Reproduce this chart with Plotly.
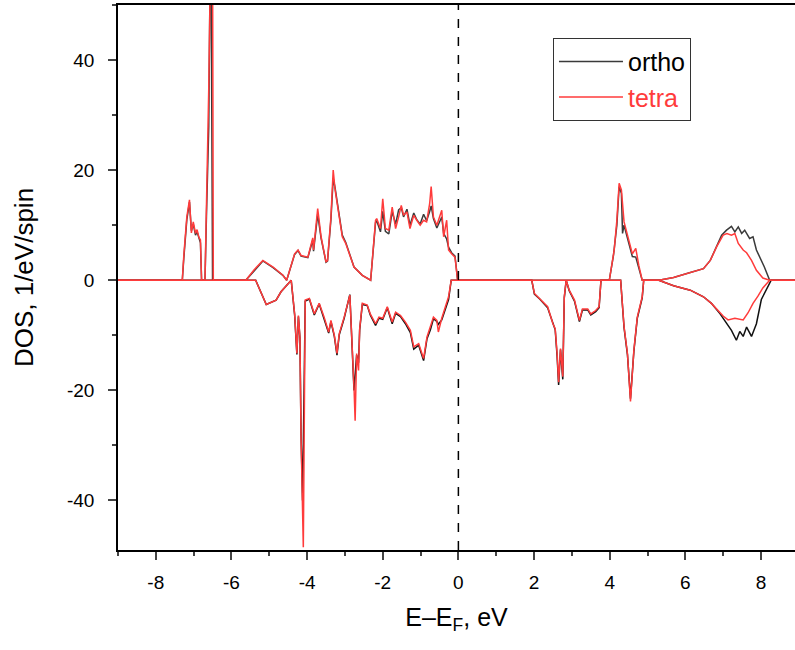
import plotly.graph_objects as go

# energy (eV, relative to E_F) and DOS (1/eV/spin)
ortho_up_e = [-9.0, -7.30, -7.26, -7.18, -7.11, -7.06, -7.01, -6.95, -6.91, -6.86, -6.82, -6.79, -6.70,
              -6.66, -6.60, -6.56, -6.54, -6.52, -6.50, -5.62, -5.40, -5.17, -4.90, -4.64, -4.54, -4.33,
              -4.24, -4.16, -3.98, -3.90, -3.85, -3.83, -3.72, -3.63, -3.50, -3.46, -3.37, -3.31, -3.26,
              -3.15, -3.07, -2.98, -2.89, -2.76, -2.54, -2.32, -2.19, -2.16, -2.06, -2.00, -1.93, -1.84,
              -1.75, -1.66, -1.58, -1.51, -1.45, -1.36, -1.28, -1.18, -1.10, -1.01, -0.92, -0.84, -0.76,
              -0.72, -0.66, -0.57, -0.44, -0.39, -0.31, -0.26, -0.18, -0.09, -0.02, 3.99, 4.10, 4.19,
              4.25, 4.31, 4.34, 4.38, 4.51, 4.60, 4.69, 4.77, 4.86, 5.30, 5.69, 6.13, 6.48, 6.66, 6.83,
              6.96, 7.09, 7.22, 7.31, 7.40, 7.49, 7.57, 7.70, 7.79, 7.88, 8.01, 8.09, 8.23, 8.9]
ortho_up = [0, 0, 4, 11, 14.2, 9, 10.2, 8.2, 8.8, 7.5, 6.8, 0, 0,
            12, 28, 60, 60, 30, 0, 0, 1.8, 3.5, 2.3, 0.9, 0, 4.7,
            5.4, 4.4, 4.1, 6.0, 7.3, 5.3, 12.0, 7.6, 3.3, 3.5, 11.0, 18.5, 16.8,
            11.8, 8.2, 6.9, 4.9, 2.4, 0.9, 0, 10.5, 10.8, 8.8, 12.5, 8.9, 8.4,
            12.5, 10.2, 12.8, 13.2, 11.5, 12.9, 10.0, 12.2, 11.0, 10.2, 12.0, 10.8, 12.5,
            13.5, 11.2, 9.5, 11.5, 8.5, 7.5, 6.0, 5.0, 4.4, 0, 0, 4.5, 10.0,
            17.0, 15.8, 8.5, 10.0, 6.6, 4.3, 4.2, 2.2, 0, 0, 0.5, 1.4, 2.1, 3.6, 6.1,
            8.2, 9.1, 9.8, 8.8, 9.7, 8.5, 9.1, 7.6, 7.9, 5.5, 3.6, 2.4, 0, 0]

ortho_dn_e = [-9.0, -5.36, -5.08, -4.82, -4.69, -4.42, -4.33, -4.27, -4.23, -4.19, -4.16, -4.12, -4.08,
              -4.05, -3.94, -3.81, -3.68, -3.55, -3.43, -3.37, -3.28, -3.21, -3.15, -3.02, -2.87, -2.76,
              -2.73, -2.69, -2.64, -2.61, -2.54, -2.41, -2.33, -2.19, -2.10, -2.00, -1.88, -1.75, -1.66,
              -1.53, -1.40, -1.27, -1.18, -1.05, -0.92, -0.83, -0.74, -0.66, -0.57, -0.53, -0.44, -0.35,
              -0.26, -0.19, 1.94, 2.01, 2.15, 2.36, 2.50, 2.56, 2.61, 2.65, 2.70, 2.76, 2.80, 2.85,
              2.93, 3.07, 3.20, 3.28, 3.42, 3.50, 3.63, 3.72, 3.77, 4.29, 4.38, 4.47, 4.55, 4.64,
              4.73, 4.86, 4.90, 5.30, 5.69, 6.13, 6.48, 6.69, 6.92, 7.09, 7.22, 7.35, 7.44, 7.53,
              7.62, 7.75, 7.88, 8.01, 8.14, 8.27, 8.9]
ortho_dn = [0, 0, -4.4, -3.6, -2.1, 0, -6.3, -13.5, -6.6, -10.5, -28, -40, -20,
            -3.8, -3.4, -6.3, -4.3, -6.9, -9.6, -7.5, -10.2, -13.6, -9.9, -6.9, -2.6, -20.0,
            -17, -13.6, -15.0, -9.0, -4.4, -4.6, -6.3, -8.2, -6.9, -7.1, -5.0, -7.9, -6.0,
            -6.6, -7.9, -9.5, -12.5, -11.8, -14.6, -10.6, -9.0, -7.0, -7.5, -8.0, -7.2, -5.2,
            -3.5, 0, 0, -2.5, -3.4, -5.0, -8.1, -9.0, -13.8, -19.0, -12.6, -18.0, -3.2, 0,
            -1.9, -3.8, -7.5, -5.4, -5.4, -6.3, -5.7, -5.0, 0, 0, -8.6, -13.5, -21.5, -12.9,
            -6.9, -3.2, 0, 0, -1.0, -1.8, -3.0, -4.2, -6.1, -7.9, -9.1, -10.9, -9.3, -10.2,
            -8.5, -10.2, -7.9, -3.5, -1.7, 0, 0]

tetra_up_e = [-9.0, -7.30, -7.26, -7.18, -7.11, -7.06, -7.01, -6.95, -6.91, -6.86, -6.82, -6.79, -6.70,
              -6.66, -6.60, -6.55, -6.50, -6.48, -5.62, -5.40, -5.17, -4.90, -4.64, -4.54, -4.33, -4.24,
              -4.16, -3.98, -3.90, -3.85, -3.83, -3.72, -3.63, -3.50, -3.46, -3.37, -3.31, -3.26, -3.15,
              -3.07, -2.98, -2.89, -2.76, -2.54, -2.32, -2.19, -2.16, -2.06, -2.00, -1.93, -1.84, -1.75,
              -1.66, -1.58, -1.51, -1.45, -1.36, -1.28, -1.18, -1.10, -1.01, -0.92, -0.84, -0.76, -0.72,
              -0.66, -0.57, -0.44, -0.39, -0.31, -0.26, -0.18, -0.09, -0.02, 3.99, 4.12, 4.19, 4.25,
              4.31, 4.38, 4.51, 4.60, 4.69, 4.77, 4.86, 5.30, 5.69, 6.13, 6.48, 6.66, 6.83, 7.00,
              7.10, 7.22, 7.31, 7.40, 7.53, 7.62, 7.75, 7.88, 8.05, 8.23, 8.9]
tetra_up = [0, 0, 4.5, 11.5, 14.6, 8.6, 10.6, 8.5, 9.2, 7.8, 7.3, 0, 0,
            14, 35, 60, 60, 0, 0, 1.9, 3.6, 2.4, 0.9, 0, 4.8, 5.5,
            4.5, 4.2, 6.1, 7.7, 5.5, 13.0, 7.9, 3.3, 3.6, 11.5, 20.0, 16.4, 11.5,
            7.9, 6.7, 4.8, 2.4, 0.9, 0, 10.9, 11.2, 9.4, 14.8, 9.4, 9.1, 13.3,
            9.4, 11.5, 13.6, 11.8, 12.4, 9.4, 11.8, 10.9, 10.0, 10.9, 10.6, 13.9, 17.0,
            11.5, 10.0, 12.7, 7.9, 10.9, 5.5, 4.8, 4.2, 0, 0, 5.5, 10.9, 17.6,
            16.4, 10.6, 7.3, 4.8, 5.8, 2.7, 0, 0, 0.5, 1.4, 2.1, 3.6, 6.1, 8.2,
            8.5, 8.2, 8.5, 6.7, 5.5, 5.0, 3.6, 1.8, 0.4, 0, 0]

tetra_dn_e = [-9.0, -5.36, -5.08, -4.82, -4.69, -4.42, -4.33, -4.27, -4.23, -4.19, -4.16, -4.10, -4.05,
              -3.94, -3.81, -3.68, -3.55, -3.43, -3.37, -3.28, -3.21, -3.15, -3.02, -2.87, -2.76, -2.73,
              -2.69, -2.64, -2.61, -2.54, -2.41, -2.33, -2.19, -2.10, -2.00, -1.88, -1.75, -1.66, -1.53,
              -1.40, -1.27, -1.18, -1.05, -0.92, -0.83, -0.74, -0.66, -0.57, -0.53, -0.44, -0.35, -0.26,
              -0.19, 1.94, 2.01, 2.15, 2.36, 2.50, 2.56, 2.61, 2.65, 2.70, 2.76, 2.80, 2.85, 2.93,
              3.07, 3.20, 3.28, 3.42, 3.50, 3.63, 3.72, 3.77, 4.29, 4.38, 4.47, 4.55, 4.64, 4.73,
              4.86, 4.90, 5.30, 5.69, 6.13, 6.48, 6.69, 7.00, 7.13, 7.31, 7.53, 7.66, 7.79, 7.92,
              8.05, 8.23, 8.9]
tetra_dn = [0, 0, -4.4, -3.6, -2.1, 0, -6.1, -13.3, -6.4, -10.3, -28.5, -48.5, -3.6,
            -3.3, -6.1, -4.2, -6.7, -9.4, -7.3, -10.0, -13.3, -9.7, -6.7, -2.7, -19.4, -25.5,
            -13.3, -16.4, -8.8, -4.2, -4.5, -6.1, -7.9, -6.7, -6.9, -4.8, -7.6, -5.8, -6.4,
            -7.6, -9.1, -12.1, -11.5, -14.2, -10.3, -8.5, -6.7, -7.3, -9.4, -6.9, -4.8, -3.0,
            0, 0, -2.4, -3.3, -4.8, -7.9, -8.8, -13.3, -18.5, -12.4, -17.5, -3.0, 0, -1.8,
            -3.6, -7.3, -5.2, -5.2, -6.1, -5.5, -4.8, 0, 0, -8.4, -13.3, -22.0, -12.7, -6.7,
            -3.0, 0, 0, -1.0, -1.8, -3.0, -4.2, -6.5, -7.2, -6.9, -7.2, -5.9, -4.2, -2.9,
            -1.4, 0, 0]

x_ticks = [-8, -6, -4, -2, 0, 2, 4, 6, 8]
x_labels = ['-8', '-6', '-4', '-2', '0', '2', '4', '6', '8']
y_ticks = [-40, -20, 0, 20, 40]
y_labels = ['-40', '-20', '0', '20', '40']
E_F = 0

ortho_col = '#3a3a3a'
tetra_col = '#ff3b3b'

fig = go.Figure()
fig.add_trace(go.Scatter(x=ortho_up_e, y=ortho_up, mode='lines', name='ortho', legendgroup='o',
                         line=dict(color=ortho_col, width=1.5)))
fig.add_trace(go.Scatter(x=ortho_dn_e, y=ortho_dn, mode='lines', name='ortho', legendgroup='o',
                         showlegend=False, line=dict(color='#111111', width=1.5)))
fig.add_trace(go.Scatter(x=tetra_up_e, y=tetra_up, mode='lines',
                         name='<span style="color:#ff3b3b">tetra</span>', legendgroup='t',
                         line=dict(color=tetra_col, width=1.5)))
fig.add_trace(go.Scatter(x=tetra_dn_e, y=tetra_dn, mode='lines', name='tetra', legendgroup='t',
                         showlegend=False, line=dict(color=tetra_col, width=1.5)))

fig.add_vline(x=E_F, line=dict(color='black', width=1.5, dash='dash'))

axis_font = dict(family='Liberation Sans, Arial, sans-serif', size=19, color='black')
fig.update_xaxes(range=[-9, 8.9], tickvals=x_ticks, ticktext=x_labels, ticks='outside', ticklen=8,
                 tickwidth=1.5, showline=True, linecolor='black', linewidth=1.5, mirror=True,
                 showgrid=False, zeroline=False, tickfont=axis_font, ticklabelstandoff=6,
                 automargin=False,
                 minor=dict(dtick=1, ticks='outside', ticklen=4, tickwidth=1.5, showgrid=False),
                 title=dict(text='E\u2013E<sub>F</sub>, eV', font=dict(size=25, color='black'),
                            standoff=17))
fig.update_yaxes(range=[-49, 50], tickvals=y_ticks, ticktext=y_labels, ticks='outside', ticklen=8,
                 tickwidth=1.5, showline=True, linecolor='black', linewidth=1.5, mirror=True,
                 showgrid=False, zeroline=False, tickfont=axis_font, ticklabelstandoff=10,
                 automargin=False,
                 minor=dict(dtick=10, ticks='outside', ticklen=4, tickwidth=1.5, showgrid=False),
                 title=dict(text='DOS, 1/eV/spin', font=dict(size=26, color='black'), standoff=26))

fig.update_layout(
    width=795, height=650,
    margin=dict(l=118, r=0, t=5, b=100),
    plot_bgcolor='white', paper_bgcolor='white',
    font=dict(family='Liberation Sans, Arial, sans-serif', color='black'),
    legend=dict(x=0.6425, y=0.94, xanchor='left', yanchor='top', bgcolor='white',
                bordercolor='#333333', borderwidth=1, font=dict(size=25, color='black'),
                tracegroupgap=0, itemwidth=64),
)

fig.write_html("out.html", config={'displayModeBar': False},
               post_script="document.body.style.margin='0';")
